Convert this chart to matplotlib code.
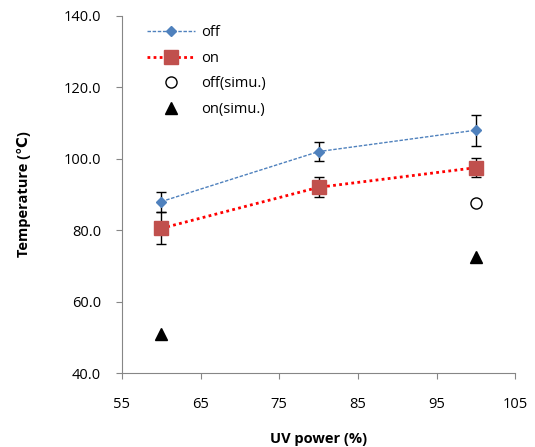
import numpy as np
import matplotlib.pyplot as plt

power = [60, 80, 100]
temp_off = [88.0, 102.0, 108.0]
err_off = [2.8, 2.6, 4.3]
temp_on = [80.5, 92.0, 97.5]
err_on = [4.5, 2.8, 2.6]
simu_off_x = [100]
simu_off = [87.5]
simu_on_x = [60, 100]
simu_on = [51.0, 72.5]

plt.rcParams['font.family'] = ['Open Sans', 'DejaVu Sans']
plt.rcParams['font.size'] = 10

fig = plt.figure(figsize=(5.35, 4.47), dpi=100)
ax = fig.add_axes([0.228, 0.1655, 0.735, 0.799])

ax.errorbar(power, temp_off, yerr=err_off, fmt='none', ecolor='black', elinewidth=1, capsize=3.3, capthick=1, zorder=2)
ax.errorbar(power, temp_on, yerr=err_on, fmt='none', ecolor='black', elinewidth=1, capsize=3.3, capthick=1, zorder=2)
ax.plot(power, temp_off, color='#4f81bd', linestyle=(0, (2.5, 1.2)), linewidth=1, marker='D', markersize=5, markerfacecolor='#4f81bd', markeredgecolor='#4f81bd', label='off', zorder=3)
ax.plot(power, temp_on, color='#ff0000', linestyle=(0, (1, 1.2)), linewidth=2, marker='s', markersize=10, markerfacecolor='#c0504d', markeredgecolor='#c0504d', label='on', zorder=3)
ax.plot(simu_off_x, simu_off, linestyle='none', marker='o', markersize=8, markerfacecolor='white', markeredgecolor='black', markeredgewidth=1, label='off(simu.)', zorder=3)
ax.plot(simu_on_x, simu_on, linestyle='none', marker='^', markersize=8, color='black', label='on(simu.)', zorder=3)

ax.set_xlim(55, 105)
ax.set_ylim(40, 140)
ax.set_xticks(np.arange(55, 106, 10))
ax.set_yticks(np.arange(40, 141, 20))
ax.set_yticklabels([f'{v:.1f}' for v in np.arange(40, 141, 20)])
ax.tick_params(direction='out', length=4, color='#868686', labelsize=10.5)
ax.tick_params(axis='x', pad=13)
ax.tick_params(axis='y', pad=11)
for s in ['top', 'right']:
    ax.spines[s].set_visible(False)
for s in ['left', 'bottom']:
    ax.spines[s].set_color('#868686')

ax.set_xlabel('UV power (%)', fontweight='bold', fontsize=10.5, va='center')
ax.set_ylabel('Temperature (℃)', fontweight='bold', fontsize=10.5, va='center')
ax.xaxis.set_label_coords(0.5, -0.185)
ax.yaxis.set_label_coords(-0.25, 0.5)

ax.legend(loc='upper left', bbox_to_anchor=(0.03, 1.01), frameon=False, fontsize=10.5, handlelength=3.3, labelspacing=0.72, handletextpad=0.4)

fig.savefig('out.png', dpi=100)
